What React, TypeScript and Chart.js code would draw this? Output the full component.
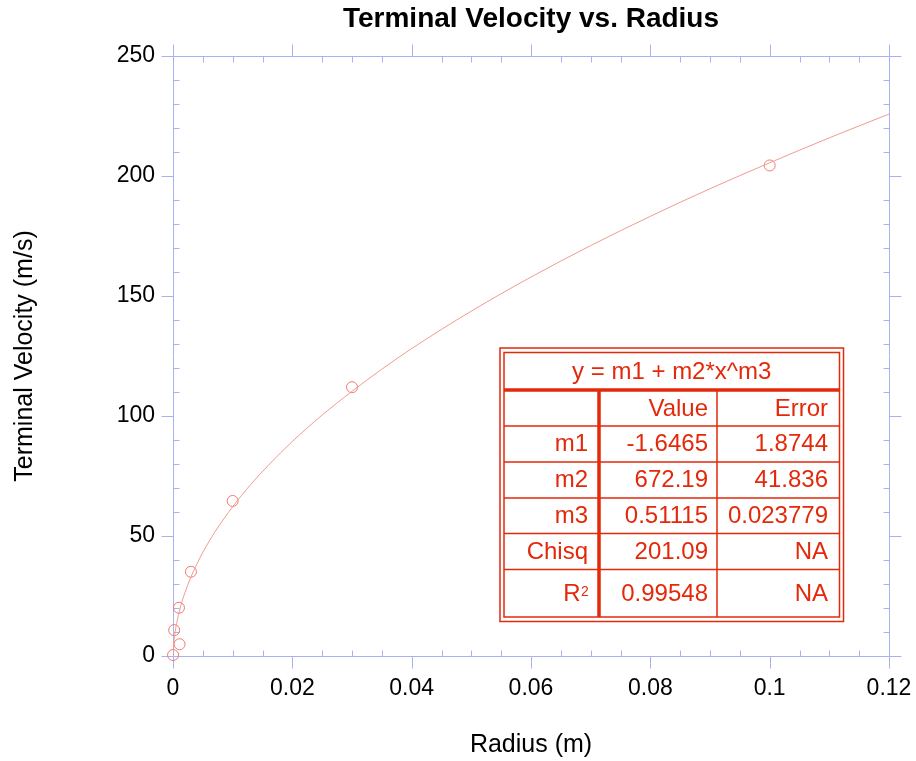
import React, { useEffect, useRef } from "react";
import { Chart, registerables } from "chart.js";

Chart.register(...registerables);

const TITLE = "Terminal Velocity vs. Radius";
const X_TITLE = "Radius (m)";
const Y_TITLE = "Terminal Velocity (m/s)";

const X_TICKS = [0, 0.02, 0.04, 0.06, 0.08, 0.1, 0.12];
const X_TICK_LABELS = ["0", "0.02", "0.04", "0.06", "0.08", "0.1", "0.12"];
const Y_TICKS = [0, 50, 100, 150, 200, 250];
const Y_TICK_LABELS = ["0", "50", "100", "150", "200", "250"];
const X_MINOR_STEP = 0.005;
const Y_MINOR_STEP = 10;

// measured points (radius m, velocity m/s)
const RADIUS = [0.00001, 0.0002, 0.001, 0.0011, 0.003, 0.01, 0.03, 0.1];
const VELOCITY = [0.4, 10.8, 20.1, 4.9, 35.1, 64.6, 112.0, 204.4];

// fitted curve
const FIT_X = [
  0.00001, 0.00003, 0.0001, 0.0003, 0.0006, 0.001, 0.0015, 0.002, 0.003, 0.004,
  0.005, 0.007, 0.01, 0.013, 0.016, 0.02, 0.025, 0.03, 0.035, 0.04, 0.05, 0.06,
  0.07, 0.08, 0.09, 0.1, 0.11, 0.12,
];
const FIT_Y = [
  0.2, 1.6, 4.4, 9.0, 13.5, 18.0, 22.6, 26.4, 32.9, 38.3, 43.2, 51.6, 62.2, 71.4,
  79.5, 89.4, 100.4, 110.3, 119.5, 128.1, 143.7, 157.9, 171.0, 183.2, 194.7,
  205.5, 215.9, 225.8,
];

const TABLE_HEADER = "y = m1 + m2*x^m3";
const TABLE_COLUMNS = ["Value", "Error"];
const PARAM_NAMES = ["m1", "m2", "m3", "Chisq", "R"];
const PARAM_VALUES = ["-1.6465", "672.19", "0.51115", "201.09", "0.99548"];
const PARAM_ERRORS = ["1.8744", "41.836", "0.023779", "NA", "NA"];

const FONT = '"Liberation Sans", Arial, Helvetica, sans-serif';
const AXIS_COLOR = "#a9b1f3";
const TABLE_COLOR = "#e4290b";
const POINT_COLOR = "#ee7c70";
const LINE_COLOR = "#f29a90";

const framePlugin = {
  id: "frame",
  beforeDatasetsDraw(chart: any) {
    const { ctx, chartArea: a, scales } = chart;
    const x = scales.x;
    const y = scales.y;
    const L = Math.round(a.left) + 0.5;
    const R = Math.round(a.right) + 0.5;
    const T = Math.round(a.top) + 0.5;
    const B = Math.round(a.bottom) + 0.5;
    const MAJ = 12;
    const MIN = 6;
    ctx.save();
    ctx.strokeStyle = AXIS_COLOR;
    ctx.lineWidth = 1;
    ctx.beginPath();
    ctx.rect(L, T, R - L, B - T);
    X_TICKS.forEach((v) => {
      const px = Math.round(x.getPixelForValue(v)) + 0.5;
      ctx.moveTo(px, B);
      ctx.lineTo(px, B + MAJ);
      ctx.moveTo(px, T);
      ctx.lineTo(px, T - MAJ);
    });
    for (let i = 1; ; i++) {
      const v = x.min + i * X_MINOR_STEP;
      if (v >= x.max - 1e-9) break;
      if (X_TICKS.some((t) => Math.abs(t - v) < 1e-9)) continue;
      const px = Math.round(x.getPixelForValue(v)) + 0.5;
      ctx.moveTo(px, B);
      ctx.lineTo(px, B - MIN);
      ctx.moveTo(px, T);
      ctx.lineTo(px, T + MIN);
    }
    Y_TICKS.forEach((v) => {
      const py = Math.round(y.getPixelForValue(v)) + 0.5;
      ctx.moveTo(L, py);
      ctx.lineTo(L - MAJ, py);
      ctx.moveTo(R, py);
      ctx.lineTo(R + MAJ, py);
    });
    for (let i = 1; ; i++) {
      const v = y.min + i * Y_MINOR_STEP;
      if (v >= y.max - 1e-9) break;
      if (Y_TICKS.some((t) => Math.abs(t - v) < 1e-9)) continue;
      const py = Math.round(y.getPixelForValue(v)) + 0.5;
      ctx.moveTo(L, py);
      ctx.lineTo(L + MIN, py);
      ctx.moveTo(R, py);
      ctx.lineTo(R - MIN, py);
    }
    ctx.stroke();
    ctx.restore();
  },
};

const tablePlugin = {
  id: "fitTable",
  afterDraw(chart: any) {
    const { ctx } = chart;
    const rows = [352.5, 390, 426, 462, 498, 533.5, 569.5, 617];
    const cols = [504, 599, 717, 839.5];
    ctx.save();
    ctx.strokeStyle = TABLE_COLOR;
    ctx.fillStyle = TABLE_COLOR;
    ctx.lineWidth = 1.5;
    ctx.strokeRect(500, 348, 343.5, 273.5);
    ctx.strokeRect(cols[0], rows[0], cols[3] - cols[0], rows[7] - rows[0]);
    ctx.beginPath();
    for (let r = 2; r < rows.length - 1; r++) {
      ctx.moveTo(cols[0], rows[r]);
      ctx.lineTo(cols[3], rows[r]);
    }
    ctx.moveTo(cols[2], rows[1]);
    ctx.lineTo(cols[2], rows[7]);
    ctx.stroke();
    ctx.lineWidth = 3.5;
    ctx.beginPath();
    ctx.moveTo(cols[0], rows[1]);
    ctx.lineTo(cols[3], rows[1]);
    ctx.moveTo(cols[1], rows[1]);
    ctx.lineTo(cols[1], rows[7]);
    ctx.stroke();

    ctx.font = `24px ${FONT}`;
    ctx.textBaseline = "alphabetic";
    ctx.textAlign = "center";
    ctx.fillText(TABLE_HEADER, (cols[0] + cols[3]) / 2, 379);
    ctx.textAlign = "right";
    const rightA = 588;
    const rightB = 708;
    const rightC = 828;
    ctx.fillText(TABLE_COLUMNS[0], rightB, 415.5);
    ctx.fillText(TABLE_COLUMNS[1], rightC, 415.5);
    const baselines = [450.5, 486.5, 522.5, 558.5, 600.5];
    PARAM_NAMES.forEach((name, i) => {
      const by = baselines[i];
      if (name === "R") {
        ctx.textAlign = "right";
        ctx.fillText("R", 580.5, by);
        ctx.font = `14px ${FONT}`;
        ctx.textAlign = "left";
        ctx.fillText("2", 581, by - 5);
        ctx.font = `24px ${FONT}`;
        ctx.textAlign = "right";
      } else {
        ctx.fillText(name, rightA, by);
      }
      ctx.fillText(PARAM_VALUES[i], rightB, by);
      ctx.fillText(PARAM_ERRORS[i], rightC, by);
    });
    ctx.restore();
  },
};

export default function App() {
  const ref = useRef<HTMLCanvasElement | null>(null);

  useEffect(() => {
    if (!ref.current) return;
    const chart = new Chart(ref.current, {
      type: "scatter",
      data: {
        datasets: [
          {
            label: "fit",
            data: FIT_X.map((v, i) => ({ x: v, y: FIT_Y[i] })),
            showLine: true,
            borderColor: LINE_COLOR,
            borderWidth: 1,
            pointRadius: 0,
            cubicInterpolationMode: "monotone",
            fill: false,
          },
          {
            label: "data",
            data: RADIUS.map((v, i) => ({ x: v, y: VELOCITY[i] })),
            showLine: false,
            pointStyle: "circle",
            pointRadius: 5.5,
            pointBorderWidth: 1,
            pointBorderColor: POINT_COLOR,
            pointBackgroundColor: "rgba(0,0,0,0)",
            borderColor: POINT_COLOR,
            backgroundColor: "rgba(0,0,0,0)",
            clip: false,
          },
        ],
      },
      options: {
        responsive: false,
        animation: false,
        devicePixelRatio: 1,
        layout: { padding: { left: 0, right: 27, top: 0, bottom: 0 } },
        plugins: {
          legend: { display: false },
          tooltip: { enabled: false },
          title: {
            display: true,
            text: TITLE,
            fullSize: false,
            color: "#000",
            font: { family: FONT, size: 28, weight: "bold", lineHeight: 1.2 },
            padding: { top: 2.7, bottom: 19.7 },
          },
        },
        scales: {
          x: {
            type: "linear",
            min: 0,
            max: 0.12,
            afterFit(s: any) {
              s.height = 105;
              s.paddingLeft = 0;
              s.paddingRight = 0;
            },
            afterBuildTicks(s: any) {
              s.ticks = X_TICKS.map((v) => ({ value: v }));
            },
            ticks: {
              callback: (_v: any, i: number) => X_TICK_LABELS[i],
              color: "#000",
              font: { family: FONT, size: 23 },
              padding: 19,
              maxRotation: 0,
              autoSkip: false,
            },
            grid: { display: false, drawTicks: false },
            border: { display: false },
            title: {
              display: true,
              text: X_TITLE,
              color: "#000",
              font: { family: FONT, size: 25 },
              padding: { top: 0, bottom: 1 },
            },
          },
          y: {
            type: "linear",
            min: 0,
            max: 250,
            afterFit(s: any) {
              s.width = 173;
              s.paddingTop = 0;
              s.paddingBottom = 0;
            },
            afterBuildTicks(s: any) {
              s.ticks = Y_TICKS.map((v) => ({ value: v }));
            },
            ticks: {
              callback: (_v: any, i: number) => Y_TICK_LABELS[i],
              color: "#000",
              font: { family: FONT, size: 23 },
              padding: 18,
              autoSkip: false,
            },
            grid: { display: false, drawTicks: false },
            border: { display: false },
            title: {
              display: true,
              text: Y_TITLE,
              color: "#000",
              font: { family: FONT, size: 25 },
              padding: { top: 10, bottom: 0 },
            },
          },
        },
      },
      plugins: [framePlugin, tablePlugin],
    } as any);
    return () => chart.destroy();
  }, []);

  return (
    <div style={{ position: "fixed", left: 0, top: 0, width: 916, height: 761, background: "#fff" }}>
      <canvas ref={ref} width={916} height={761} style={{ display: "block" }} />
    </div>
  );
}
